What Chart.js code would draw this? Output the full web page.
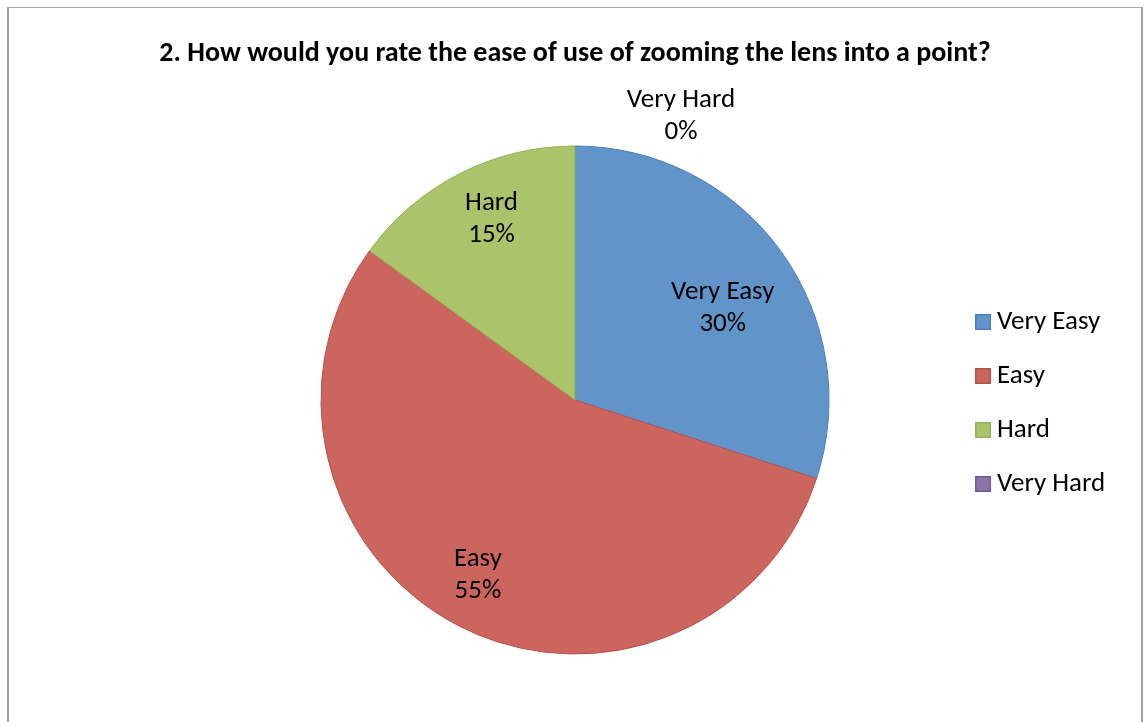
<!DOCTYPE html>
<html><head><meta charset="utf-8">
<script src="https://cdn.jsdelivr.net/npm/chart.js@4.4.1/dist/chart.umd.min.js"></script>
<style>
html,body{margin:0;padding:0;background:#fff;}
#wrap{position:relative;width:1144px;height:722px;overflow:hidden;background:#fff;}
#frame{position:absolute;left:7px;top:7px;width:1136px;height:760px;border-left:2px solid #a0a0a0;border-right:2px solid #a0a0a0;border-top:1px solid #a6a6a6;box-sizing:border-box;}
#c{position:absolute;left:0;top:0;}
</style></head>
<body><div id="wrap"><div id="frame"></div><canvas id="c" width="1144" height="722"></canvas></div>
<script>
const categories = ['Very Easy', 'Easy', 'Hard', 'Very Hard'];
const percentValues = [30, 55, 15, 0];
const chartTitle = '2. How would you rate the ease of use of zooming the lens into a point?';

const fillColors = ['#6195c9', '#cd655f', '#abc46c', '#8b73ae'];
const edgeColors = ['#4a7ebb', '#b9504c', '#93b158', '#715a93'];
const FONT = 'Carlito, Lato, sans-serif';
const LABEL_SIZE = 27;
const TITLE_SIZE = 28;

// legend swatches (16px squares with darker edge)
function swatch(fill, edge) {
  const c = document.createElement('canvas');
  c.width = 16; c.height = 16;
  const g = c.getContext('2d');
  g.fillStyle = fill; g.fillRect(0, 0, 16, 16);
  g.strokeStyle = edge; g.lineWidth = 1.5; g.strokeRect(0.75, 0.75, 14.5, 14.5);
  return c;
}
const swatches = categories.map((_, i) => swatch(fillColors[i], edgeColors[i]));

// layout so the pie centre sits at x=575 and legend boxes start at x~976
const mctx = document.createElement('canvas').getContext('2d');
mctx.font = LABEL_SIZE + 'px ' + FONT;
const maxText = Math.max(...categories.map(t => mctx.measureText(t).width));
const LEG_PAD = 27, PSW = 1;
const legendLeft = 955.5;
const legendWidth = LEG_PAD + PSW + LABEL_SIZE / 2 + maxText + 10;
const padRight = 1144 - legendLeft - legendWidth;
const padLeft = 2 * 575 - legendLeft;

const titlePlugin = {
  id: 'topTitle',
  afterDraw(chart, args, opts) {
    const ctx = chart.ctx, a = chart.chartArea;
    ctx.save();
    ctx.font = 'bold ' + TITLE_SIZE + 'px ' + FONT;
    ctx.fillStyle = '#000';
    ctx.textAlign = 'center';
    ctx.textBaseline = 'alphabetic';
    ctx.fillText(opts.text, (a.left + a.right) / 2, opts.baseline);
    ctx.restore();
  }
};

const labelPlugin = {
  id: 'sliceLabels',
  afterDatasetsDraw(chart, args, opts) {
    const ctx = chart.ctx;
    const meta = chart.getDatasetMeta(0);
    const ds = chart.data.datasets[0];
    ctx.save();
    ctx.font = LABEL_SIZE + 'px ' + FONT;
    ctx.fillStyle = '#000';
    ctx.textAlign = 'center';
    ctx.textBaseline = 'middle';
    meta.data.forEach((arc, i) => {
      const p = arc.getProps(['x', 'y', 'startAngle', 'endAngle', 'outerRadius'], true);
      const mid = (p.startAngle + p.endAngle) / 2;
      const pl = opts.place[i];
      const r = p.outerRadius * pl.r;
      const cx = p.x + Math.cos(mid) * r + pl.dx;
      const cy = p.y + Math.sin(mid) * r + pl.dy;
      ctx.fillText(chart.data.labels[i], cx, cy - opts.gap / 2);
      ctx.fillText(ds.data[i] + '%', cx, cy + opts.gap / 2);
    });
    ctx.restore();
  }
};

const defaultLabels = Chart.overrides.doughnut.plugins.legend.labels.generateLabels;

new Chart(document.getElementById('c'), {
  type: 'pie',
  data: {
    labels: categories,
    datasets: [{
      data: percentValues,
      backgroundColor: fillColors,
      borderColor: edgeColors,
      borderWidth: 1
    }]
  },
  options: {
    responsive: false,
    animation: false,
    events: [],
    radius: 254,
    layout: { padding: { left: padLeft, right: padRight, top: 78, bottom: 0 } },
    plugins: {
      tooltip: { enabled: false },
      title: { display: false },
      topTitle: { text: chartTitle, baseline: 61 },
      sliceLabels: {
        gap: 32,
        place: [
          { r: 0.68, dx: 8, dy: 10 },
          { r: 0.79, dx: -6, dy: -4 },
          { r: 0.78, dx: 6.5, dy: -4.5 },
          { r: 1.12, dx: 106, dy: 1 }
        ]
      },
      legend: {
        position: 'right',
        align: 'center',
        title: { display: true, text: '', padding: 0, font: { size: 5, lineHeight: 1.2 } },
        labels: {
          color: '#000',
          font: { family: FONT, size: LABEL_SIZE },
          padding: LEG_PAD,
          usePointStyle: true,
          pointStyleWidth: PSW,
          generateLabels(chart) {
            return defaultLabels(chart).map((it, i) => Object.assign(it, { pointStyle: swatches[i] }));
          }
        }
      }
    }
  },
  plugins: [titlePlugin, labelPlugin]
});
</script>
</body></html>
